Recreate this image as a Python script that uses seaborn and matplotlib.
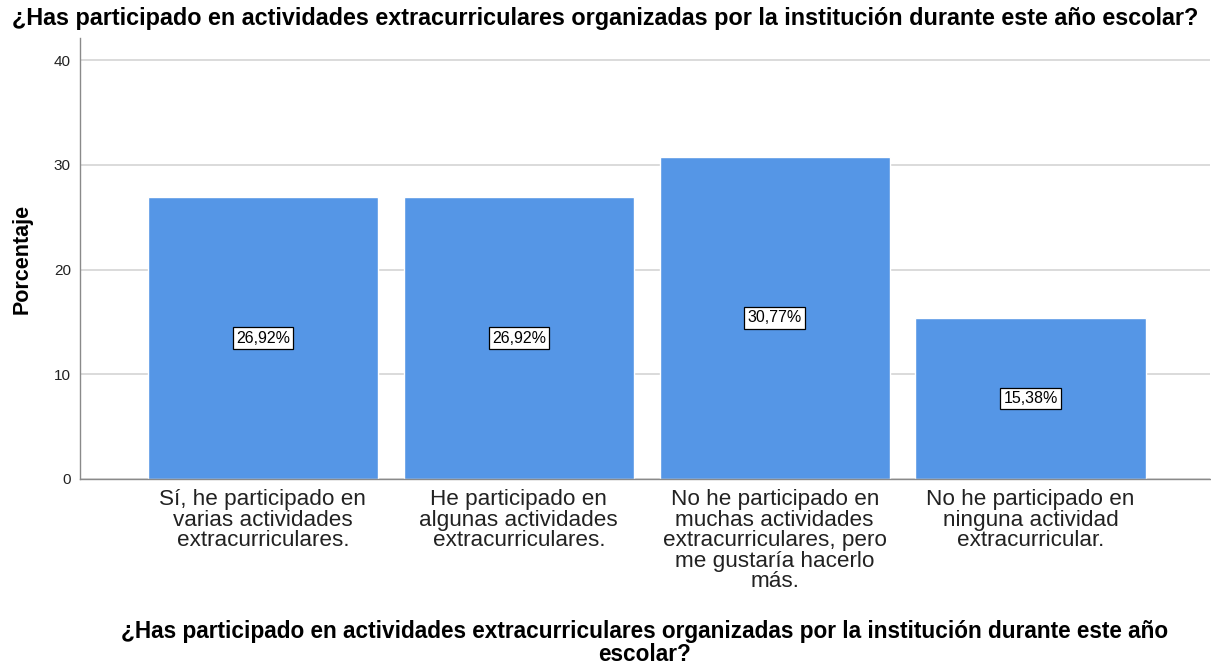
import matplotlib
matplotlib.use("Agg")
import matplotlib.pyplot as plt
import seaborn as sns
import pandas as pd

# --- chart data ---
categories = [
    "Sí, he participado en\nvarias actividades\nextracurriculares.",
    "He participado en\nalgunas actividades\nextracurriculares.",
    "No he participado en\nmuchas actividades\nextracurriculares, pero\nme gustaría hacerlo\nmás.",
    "No he participado en\nninguna actividad\nextracurricular.",
]
percentages = [26.92, 26.92, 30.77, 15.38]
y_ticks = [0, 10, 20, 30, 40]
question = "¿Has participado en actividades extracurriculares organizadas por la institución durante este año escolar?"
question_wrapped = ("¿Has participado en actividades extracurriculares organizadas por la institución durante este año\n"
                    "escolar?")

sns.set_style("white")
plt.rcParams['font.family'] = ['Liberation Sans', 'DejaVu Sans']
plt.rcParams['text.color'] = 'black'

df = pd.DataFrame({"categoria": categories, "porcentaje": percentages})

fig = plt.figure(figsize=(12.11, 6.68), dpi=100)
ax = fig.add_axes([0.066, 0.283, 0.933, 0.66])

sns.barplot(data=df, x="categoria", y="porcentaje", color="#5596e6",
            saturation=1, width=0.9, ax=ax)

labels = [f"{v:.2f}%".replace(".", ",") for v in percentages]
ax.bar_label(ax.containers[0], labels=labels, label_type="center", fontsize=11.5,
             color="black",
             bbox=dict(boxstyle="square,pad=0.2", fc="white", ec="black", lw=0.9))

ax.set_xlim(-0.715, 3.70)
ax.set_ylim(0, 42.1)
ax.set_yticks(y_ticks)
ax.set_yticklabels([str(t) for t in y_ticks], fontsize=11, color="#222222")
ax.yaxis.grid(True, color="#d4d4d4", lw=1.2)
ax.set_axisbelow(True)

for s in ["top", "right"]:
    ax.spines[s].set_visible(False)
for s in ["left", "bottom"]:
    ax.spines[s].set_color("#8a8a8a")
    ax.spines[s].set_linewidth(1.0)

ax.tick_params(axis="y", left=False, pad=3)
ax.tick_params(axis="x", bottom=False, pad=4)
for lbl in ax.get_xticklabels():
    lbl.set_fontsize(16.2)
    lbl.set_linespacing(0.97)
    lbl.set_color("#222222")

ax.set_ylabel("Porcentaje", fontsize=15.5, fontweight="bold", labelpad=15,
              color="black")
ax.set_xlabel(question_wrapped, fontsize=16.3, fontweight="bold", labelpad=20,
              linespacing=0.98, color="black")

fig.text(0.5, 0.973, question, ha="center", va="center", fontsize=16.8,
         fontweight="bold", color="black")

fig.savefig("out.png", dpi=100, facecolor="white")
